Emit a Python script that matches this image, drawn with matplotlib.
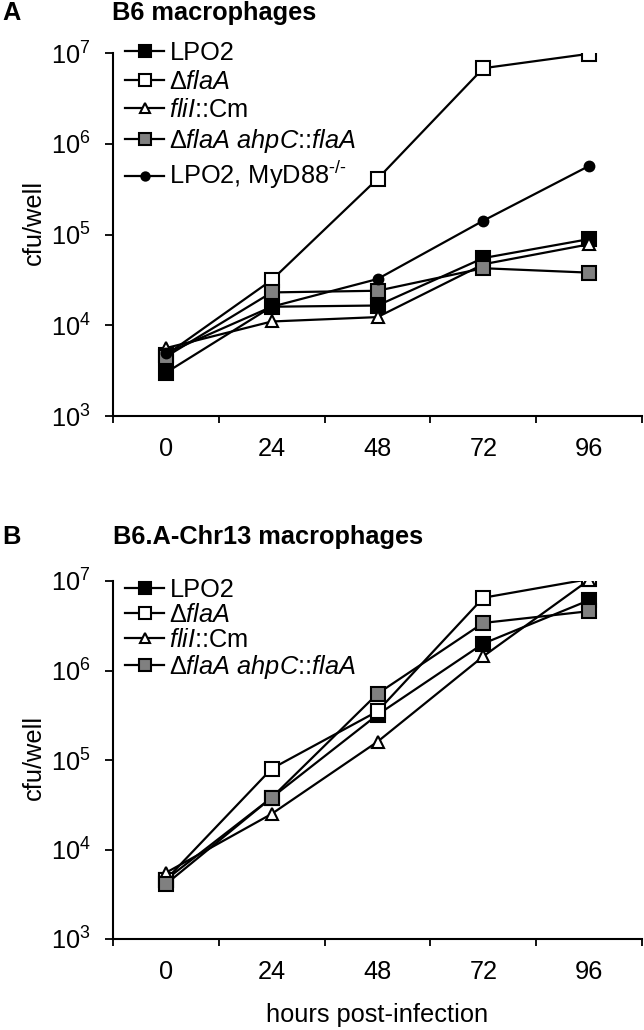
import numpy as np
import matplotlib
matplotlib.use("Agg")
import matplotlib.pyplot as plt
from matplotlib.ticker import FixedLocator, NullLocator, LogLocator, LogFormatterSciNotation

plt.rcParams['font.family'] = ['Liberation Sans', 'DejaVu Sans']
plt.rcParams['mathtext.fontset'] = 'custom'
plt.rcParams['mathtext.rm'] = 'Liberation Sans'
plt.rcParams['mathtext.it'] = 'Liberation Sans:italic'
plt.rcParams['mathtext.bf'] = 'Liberation Sans:bold'

# ---------------- data ----------------
hours = ["0", "24", "48", "72", "96"]

labels_a = ["LPO2", "Δ$\\mathit{flaA}$", "$\\mathit{fliI}$::Cm",
            "Δ$\\mathit{flaA}$ $\\mathit{ahpC}$::$\\mathit{flaA}$",
            "LPO2, MyD88$^{\\text{-/-}}$"]
a_lpo2 = [3000, 16000, 16500, 55000, 89000]
a_flaA = [4700, 31500, 410000, 6800000, 9800000]
a_flii = [5600, 11000, 12300, 47000, 78000]
a_comp = [4500, 23000, 24000, 42500, 38000]
a_myd88 = [4900, 16000, 32300, 142000, 570000]

labels_b = labels_a[:4]
b_lpo2 = [4600, 38000, 320000, 2000000, 6100000]
b_flaA = [4600, 80000, 350000, 6500000, 10500000]
b_flii = [5500, 25000, 160000, 1440000, 10300000]
b_comp = [4100, 38000, 550000, 3400000, 4600000]

title_a = "B6 macrophages"
title_b = "B6.A-Chr13 macrophages"
ylabel = "cfu/well"
xlabel = "hours post-infection"

# ---------------- styles ----------------
styles = [
    dict(marker='s', mfc='black', mec='black', ms=10),
    dict(marker='s', mfc='white', mec='black', ms=10),
    dict(marker='^', mfc='white', mec='black', ms=9),
    dict(marker='s', mfc='#808080', mec='black', ms=10),
    dict(marker='o', mfc='black', mec='black', ms=7),
]

W, H = 644, 1030
fig = plt.figure(figsize=(W / 100, H / 100), dpi=100)

FS = 18.3


def make_axes(top_px, bottom_px):
    left, right = 113, 642
    return fig.add_axes([left / W, 1 - bottom_px / H, (right - left) / W, (bottom_px - top_px) / H])


def style_axes(ax, ylab_y):
    x = np.arange(len(hours))
    ax.set_yscale('log')
    ax.set_ylim(1e3, 1e7)
    ax.set_xlim(-0.5, len(hours) - 0.5)
    ax.yaxis.set_major_locator(LogLocator(base=10, numticks=10))
    ax.yaxis.set_major_formatter(LogFormatterSciNotation())
    ax.yaxis.set_minor_locator(NullLocator())
    ax.xaxis.set_major_locator(FixedLocator(np.arange(len(hours) + 1) - 0.5))
    ax.xaxis.set_major_formatter(plt.NullFormatter())
    ax.xaxis.set_minor_locator(FixedLocator(x))
    ax.set_xticklabels(hours, minor=True)
    for s in ['top', 'right']:
        ax.spines[s].set_visible(False)
    for s in ['left', 'bottom']:
        ax.spines[s].set_linewidth(1.5)
    ax.tick_params(axis='y', which='major', direction='out', length=6, width=1.3,
                   labelsize=FS, pad=10)
    ax.tick_params(axis='x', which='major', direction='out', length=5, width=1.3)
    ax.tick_params(axis='x', which='minor', length=0, labelsize=FS, pad=15)
    ax.set_ylabel(ylabel, fontsize=FS)
    ax.yaxis.set_label_coords(-0.127, ylab_y)
    ax.patch.set_alpha(0)


def plot_series(ax, series, labels):
    x = np.arange(len(hours))
    for i, (vals, lab) in enumerate(zip(series, labels)):
        ax.plot(x, vals, color='black', lw=1.6, mew=1.5, label=lab,
                zorder=3 + i, **styles[i])


# ---------------- Panel A ----------------
axA = make_axes(53, 416)
plot_series(axA, [a_lpo2, a_flaA, a_flii, a_comp, a_myd88], labels_a)
style_axes(axA, 0.534)
legA = axA.legend(loc='upper left', bbox_to_anchor=(125 / W, 1 - 41 / H),
                  bbox_transform=fig.transFigure, frameon=False, fontsize=FS,
                  borderpad=0, borderaxespad=0, handlelength=1.55,
                  handletextpad=0.2, labelspacing=0.18, markerscale=0.85)
fig.text(2 / W, 1 - 13 / H, "A", fontsize=FS, fontweight='bold', va='center', ha='left')
fig.text(112 / W, 1 - 13 / H, title_a, fontsize=FS, fontweight='bold', va='center', ha='left')

# ---------------- Panel B ----------------
axB = make_axes(581, 939)
plot_series(axB, [b_lpo2, b_flaA, b_flii, b_comp], labels_b)
style_axes(axB, 0.506)
axB.set_xlabel(xlabel, fontsize=FS, labelpad=14)
legB = axB.legend(loc='upper left', bbox_to_anchor=(125 / W, 1 - 578 / H),
                  bbox_transform=fig.transFigure, frameon=False, fontsize=FS,
                  borderpad=0, borderaxespad=0, handlelength=1.55,
                  handletextpad=0.2, labelspacing=0.04, markerscale=0.85)
fig.text(2 / W, 1 - 537 / H, "B", fontsize=FS, fontweight='bold', va='center', ha='left')
fig.text(113 / W, 1 - 537 / H, title_b, fontsize=FS, fontweight='bold', va='center', ha='left')

fig.savefig("out.png", dpi=100)
